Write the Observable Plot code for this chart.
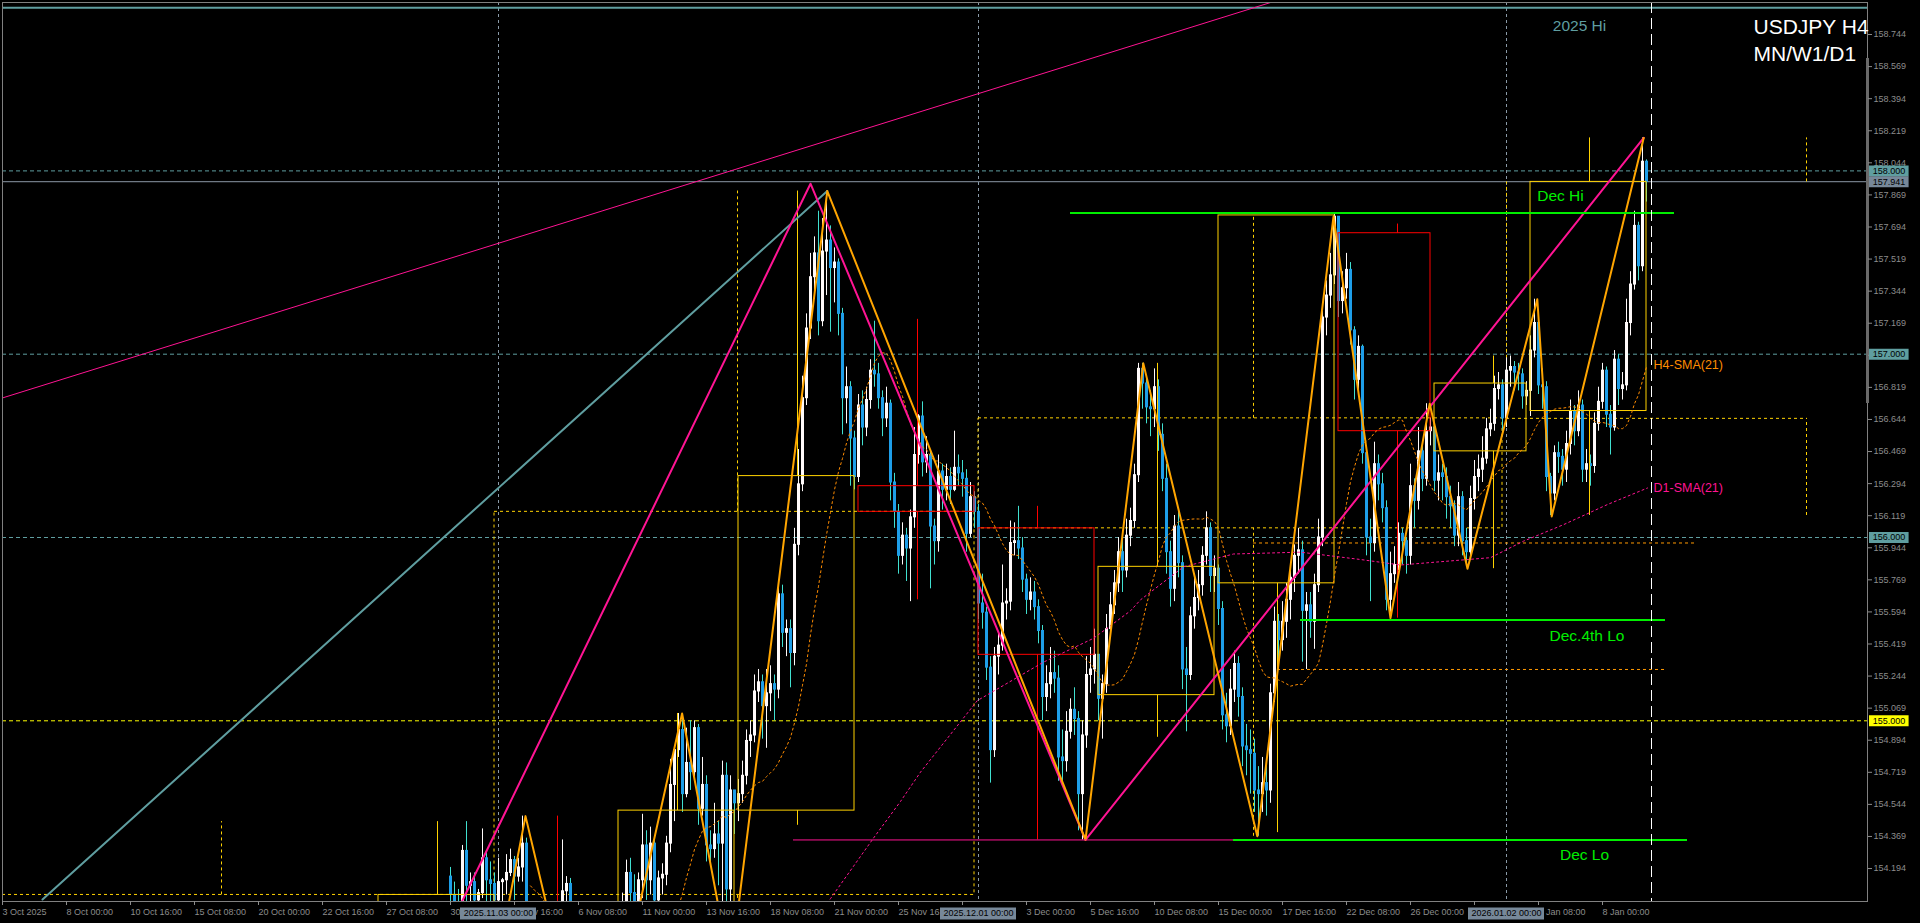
<!DOCTYPE html>
<html>
<head>
<meta charset="utf-8">
<title>USDJPY H4</title>
<script src="https://cdn.jsdelivr.net/npm/d3@7"></script>
<script src="https://cdn.jsdelivr.net/npm/@observablehq/plot@0.6"></script>
<style>
  html, body { margin: 0; padding: 0; background: #000; overflow: hidden; }
  #chart svg { display: block; }
</style>
</head>
<body>
<div id="chart"></div>
<script>
// ================= DATA =================
// H4 bars, bar index 0 = 3 Oct 2025 08:00 (weekend gaps removed)
const firstBar = 112;          // Thu 30 Oct 2025 00:00
const firstOpen = 154.15;
const closes = [
154.05,154.00,153.95,154.29,154.10,154.12, 154.02,154.06,154.25,154.13,154.11,154.02,
154.12,154.13,154.17,154.24,154.15,154.20, 154.33,153.95,153.70,153.55,153.62,153.40,
153.30,153.20,153.45,153.85,154.07,154.11, 153.98,153.85,153.70,153.60,153.45,153.30,
153.20,153.05,152.95,153.15,153.30,153.40, 153.65,153.95,154.17,154.06,153.98,154.13,
154.32,154.13,154.33,154.02,154.14,154.16, 154.33,154.65,154.84,154.95,154.60,154.77,
154.72,154.96,154.52,154.65,154.32,154.30, 154.38,154.33,154.70,154.08,154.62,154.55,
154.60,154.70,154.89,154.92,155.16,155.21, 155.08,155.15,155.20,155.17,155.69,155.48,
155.50,155.37,155.96,156.29,156.76,157.14, 157.42,157.55,157.18,157.56,157.62,157.47,
157.50,157.22,156.76,156.82,156.54,156.33, 156.72,156.60,156.75,156.91,156.89,156.76,
156.65,156.73,156.30,156.14,155.90,156.01, 155.94,156.11,156.45,156.66,156.41,156.45,
156.06,155.98,156.36,156.26,156.33,156.26, 156.38,156.35,156.32,156.02,156.22,156.14,
155.64,155.59,155.29,154.84,155.35,155.41, 155.64,155.65,155.97,155.98,155.94,155.77,
155.66,155.70,155.62,155.49,155.13,155.20, 155.26,155.23,154.80,154.78,154.94,155.06,
155.01,154.60,154.92,155.25,155.28,155.36, 155.12,155.20,155.50,155.63,155.75,155.92,
155.82,156.01,156.09,156.34,156.92,156.84, 156.71,156.70,156.82,156.56,156.32,155.92,
155.72,156.06,155.86,155.28,155.25,155.57, 155.67,155.74,155.90,156.05,155.79,155.83,
155.61,155.03,154.97,155.17,155.31,155.13, 154.86,154.84,154.82,154.62,154.60,154.66,
154.62,155.15,155.54,155.44,155.54,155.66, 155.78,155.90,155.93,155.60,155.63,155.54,
155.74,156.00,157.20,157.32,157.43,157.75, 157.29,157.36,157.46,157.13,156.86,157.04,
156.46,156.00,155.97,156.40,156.29,156.16, 155.66,155.80,155.85,156.02,155.98,155.90,
156.28,156.20,156.47,156.32,156.58,156.60, 156.31,156.35,156.33,156.22,156.17,156.01,
156.22,155.98,155.92,156.21,156.33,156.37, 156.43,156.59,156.62,156.81,156.83,156.65,
156.91,156.93,156.90,156.89,156.77,156.80, 157.02,157.17,156.83,156.82,156.33,156.24,
156.46,156.44,156.37,156.51,156.69,156.58, 156.72,156.37,156.40,156.39,156.62,156.74,
156.91,156.67,156.60,156.97,156.81,156.83, 157.17,157.38,157.70,157.48,158.05,157.94
];
const highs = [
154.20,154.12,154.08,154.32,154.45,154.17, 154.17,154.08,154.41,154.29,154.23,154.17,
154.25,154.14,154.27,154.30,154.26,154.25, 154.48,154.36,153.98,153.75,153.72,153.66,
153.50,153.40,153.55,153.92,154.35,154.15, 154.14,154.00,153.95,153.80,153.70,153.55,
153.40,153.30,153.15,153.25,153.42,153.50, 153.75,154.06,154.24,154.25,154.16,154.17,
154.49,154.40,154.42,154.36,154.18,154.22, 154.37,154.79,154.86,155.04,155.03,154.96,
155.00,155.00,154.98,154.80,154.70,154.40, 154.55,154.45,154.78,154.77,154.70,154.62,
154.68,154.78,154.95,155.00,155.25,155.28, 155.25,155.28,155.30,155.25,155.74,155.74,
155.55,155.55,156.05,156.48,156.88,157.22, 157.55,157.64,157.78,157.74,157.89,157.70,
157.58,157.52,157.25,156.93,156.85,156.58, 156.78,156.80,156.82,156.97,157.18,156.95,
156.80,156.82,156.75,156.35,156.18,156.08, 156.05,156.15,156.60,156.67,156.74,156.55,
156.48,156.10,156.45,156.40,156.40,156.38, 156.58,156.45,156.42,156.37,156.30,156.25,
156.18,155.80,155.62,155.35,155.40,155.48, 155.85,155.72,156.09,156.08,156.17,156.00,
155.80,155.78,155.76,155.66,155.52,155.30, 155.40,155.38,155.30,154.95,155.05,155.12,
155.18,155.05,155.00,155.35,155.40,155.50, 155.35,155.25,155.58,155.70,155.82,156.00,
156.02,156.10,156.16,156.40,156.95,156.95, 156.88,156.80,156.92,156.86,156.62,156.40,
155.98,156.12,156.15,155.90,155.40,155.62, 155.78,155.82,155.95,156.14,156.08,155.90,
155.85,155.65,155.15,155.28,155.38,155.35, 155.18,154.98,154.95,154.90,154.75,154.80,
154.78,155.20,155.62,155.58,155.65,155.75, 155.85,155.96,156.05,155.98,155.70,155.70,
155.80,156.10,157.25,157.40,157.55,157.77, 157.70,157.45,157.55,157.50,157.15,157.10,
157.05,156.50,156.10,156.52,156.45,156.35, 156.20,155.92,155.95,156.08,156.05,156.00,
156.40,156.32,156.60,156.50,156.73,156.65, 156.55,156.45,156.40,156.38,156.28,156.20,
156.30,156.25,156.05,156.28,156.42,156.45, 156.55,156.65,156.70,156.88,156.90,156.86,
156.98,156.99,156.96,156.95,156.92,156.85, 157.10,157.30,157.20,156.92,156.85,156.35,
156.50,156.52,156.48,156.58,156.75,156.72, 156.80,156.75,156.48,156.45,156.68,156.82,
156.95,156.93,156.72,157.02,157.00,156.90, 157.30,157.45,157.78,157.72,158.18,158.06
];
const lows = [
153.95,153.90,153.85,153.92,154.00,154.00, 153.96,153.98,154.03,154.00,154.00,153.95,
154.01,154.00,154.05,154.15,154.02,154.12, 154.12,153.90,153.60,153.45,153.48,153.30,
153.15,153.05,153.00,153.40,153.80,154.00, 153.90,153.75,153.60,153.50,153.35,153.20,
153.05,152.90,152.82,152.90,153.10,153.25, 153.40,153.60,153.90,153.98,153.85,153.95,
154.03,154.02,154.05,153.97,153.99,154.05, 154.10,154.28,154.45,154.80,154.50,154.58,
154.62,154.68,154.43,154.48,154.23,154.20, 154.25,154.10,154.00,153.65,153.70,154.38,
154.45,154.55,154.65,154.80,154.88,155.10, 154.90,154.85,155.05,155.00,155.12,155.40,
155.35,155.18,155.30,155.90,156.25,156.72, 157.08,157.30,157.10,157.15,157.32,157.12,
157.28,157.10,156.56,156.62,156.28,156.26, 156.30,156.50,156.55,156.70,156.82,156.70,
156.55,156.60,156.20,156.05,155.80,155.85, 155.76,155.65,156.05,156.40,156.33,156.35,
155.72,155.85,155.92,156.15,156.20,156.18, 156.25,156.28,156.22,155.92,156.00,156.05,
155.55,155.50,155.22,154.66,154.80,155.25, 155.38,155.55,155.60,155.90,155.88,155.70,
155.58,155.60,155.55,155.42,155.00,155.05, 155.12,155.15,154.67,154.65,154.72,154.90,
154.92,154.40,154.35,154.85,155.15,155.20, 155.00,154.90,155.15,155.45,155.58,155.70,
155.70,155.78,155.95,156.05,156.30,156.70, 156.62,156.55,156.60,156.47,156.25,155.80,
155.62,155.65,155.78,155.17,154.94,155.22, 155.50,155.60,155.68,155.85,155.70,155.70,
155.52,154.95,154.88,154.92,155.10,155.02, 154.75,154.70,154.60,154.50,154.37,154.50,
154.48,154.55,155.10,155.30,155.38,155.45, 155.55,155.70,155.80,155.32,155.28,155.45,
155.39,155.70,155.95,157.10,157.25,157.38, 157.20,157.22,157.30,157.05,156.75,156.80,
156.40,155.90,155.65,155.92,156.20,156.08, 155.60,155.56,155.75,155.82,155.85,155.80,
155.85,156.05,156.15,156.25,156.28,156.50, 156.25,156.20,156.20,156.10,156.05,155.95,
155.95,155.90,155.84,155.90,156.15,156.25, 156.30,156.40,156.55,156.58,156.75,156.55,
156.60,156.82,156.80,156.80,156.70,156.72, 156.66,156.98,156.78,156.70,156.25,156.12,
156.20,156.35,156.28,156.30,156.45,156.50, 156.55,156.30,156.30,156.28,156.35,156.58,
156.70,156.60,156.45,156.58,156.72,156.75, 156.80,157.10,157.35,157.40,157.45,157.83
];

// Axis ticks (labels hidden under the separator boxes are left blank, as in the terminal)
const yTicks = [154.194,154.369,154.544,154.719,154.894,155.069,155.244,155.419,155.594,155.769,
  155.944,156.119,156.294,156.469,156.644,156.819,156.994,157.169,157.344,157.519,157.694,157.869,
  158.044,158.219,158.394,158.569,158.744];
const xTickIdx = [0,16,32,48,64,80,96,112,128,144,160,176,192,208,224,240,256,272,288,304,320,336,352,368,384,400];
const xTickLabels = ["3 Oct 2025","8 Oct 00:00","10 Oct 16:00","15 Oct 08:00","20 Oct 00:00","22 Oct 16:00",
  "27 Oct 08:00","30 Oct 00:00","3 Nov 16:00","6 Nov 08:00","11 Nov 00:00","13 Nov 16:00","18 Nov 08:00",
  "21 Nov 00:00","25 Nov 16:00","","3 Dec 00:00","5 Dec 16:00","10 Dec 08:00","15 Dec 00:00",
  "17 Dec 16:00","22 Dec 08:00","26 Dec 00:00","","5 Jan 08:00","8 Jan 00:00"];
const sepIdx = [124, 244, 376];
const sepLabels = ["2025.11.03 00:00","2025.12.01 00:00","2026.01.02 00:00"];

// ZigZag (H4) vertices
const zzIdx = [123, 130.75, 148, 169.9, 182, 206.2, 270.75, 285.2, 313.7, 332.75, 347, 356.8, 366.25, 383.7, 387.3, 410.3];
const zzVal = [153.60, 154.48, 152.89, 155.04, 153.64, 157.89, 154.35, 156.95, 154.37, 157.75, 155.56, 156.73, 155.83, 157.30, 156.115, 158.18];
// ZigZag (D1) vertices
const zzDIdx = [113, 202, 270.75, 410.3];
const zzDVal = [153.93, 157.93, 154.35, 158.18];
// trend lines
const cyanIdx = [10, 206.2], cyanVal = [154.025, 157.89];
const trendIdx = [-0.5, 330], trendVal = [156.758, 159.007];
// D1 SMA(21)
const d1Idx = [200, 207, 217.75, 224.5, 229.5, 243.7, 260.25, 272.75, 282, 284.5, 295.25, 307.75, 324.5, 339.5, 349.5, 372, 380.25, 390.25, 401.25, 411.25];
const d1Val = [153.80, 154.03, 154.36, 154.56, 154.72, 155.11, 155.32, 155.45, 155.60, 155.66, 155.84, 155.91, 155.92, 155.88, 155.85, 155.89, 155.98, 156.07, 156.18, 156.27];

// W1 candles (first bar, last bar, OHLC)
const wkStart = [94,124,154,184,214,244,274,304,334,358,382];
const wkEnd   = [123,153,183,213,243,273,303,333,357,381,411];
const wkOpen  = [152.80,153.95,153.40,154.51,156.28,156.05,155.14,155.75,157.66,156.47,156.69];
const wkClose = [154.05,153.40,154.51,156.335,156.14,155.36,155.84,157.757,156.58,156.84,157.94];
const wkHigh  = [154.45,154.48,155.04,157.89,157.19,156.17,156.95,157.757,157.71,156.99,158.18];
const wkLow   = [152.60,152.80,153.20,154.43,155.66,154.35,154.91,154.39,155.56,155.83,156.12];
// MN candles (completed months)
const mnStart = [-60, 123, 244];
const mnEnd   = [123, 243, 375];
const mnWick  = [54.75, 183.75, 312.75];
const mnOpen  = [147.90, 154.05, 156.05];
const mnClose = [154.05, 156.14, 156.65];
const mnHigh  = [154.45, 157.89, 157.757];
const mnLow   = [145.50, 152.82, 154.37];
// current month (Jan 2026), still open to the right
const curStart = 376, curWick = 451;
const curOpen = 156.65, curClose = 157.94, curHigh = 158.18, curLow = 156.12;

// price levels
const roundLevels = [158.0, 157.0, 156.0];
const yellowLevels = [155.0];
const bidPrice = 157.941;
const yearHigh = 158.89;
const keyNames = ["Dec Hi", "Dec.4th Lo", "Dec Lo"];
const keyPrices = [157.77, 155.55, 154.35];
const keyFrom = [267, 324.5, 307.75];
const keyTo = [418, 415.75, 421.25];
const lowExtFrom = 197.75, lowExtTo = 307.75;   // magenta part of Dec Lo
const dailyLevels = [155.97, 155.28];
const dailyFrom = [312.75, 318.75];
const dailyTo = [423.5, 415.75];

// ================= BUILD =================
const bars = closes.map((c, k) => {
  const o = k === 0 ? firstOpen : closes[k - 1];
  return {i: firstBar + k, o, c, h: Math.max(highs[k], o, c), l: Math.min(lows[k], o, c), up: c >= o};
});
const zz = zzIdx.map((i, k) => ({i, p: zzVal[k]}));
const zzD = zzDIdx.map((i, k) => ({i, p: zzDVal[k]}));
const cyan = cyanIdx.map((i, k) => ({i, p: cyanVal[k]}));
const trend = trendIdx.map((i, k) => ({i, p: trendVal[k]}));
const d1 = d1Idx.map((i, k) => ({i, p: d1Val[k]}));
const weeks = wkStart.map((s, k) => ({s, e: wkEnd[k], o: wkOpen[k], c: wkClose[k], h: wkHigh[k], l: wkLow[k], m: s + 14.75}));
const months = mnStart.map((s, k) => ({s, e: mnEnd[k], m: mnWick[k], o: mnOpen[k], c: mnClose[k], h: mnHigh[k], l: mnLow[k]}));
const cur = {s: curStart, e: curWick, m: curWick, o: curOpen, c: curClose, h: curHigh, l: curLow};
const keys = keyNames.map((n, k) => ({n, p: keyPrices[k], a: keyFrom[k], b: keyTo[k]}));
const daily = dailyLevels.map((p, k) => ({p, a: dailyFrom[k], b: dailyTo[k]}));

const yMin = 154.0142, yMax = 158.9187, xMax = 466.25;
const GOLD = "#ffd200", TEAL = "#5f9ea0", PINK = "#ff1493", GREEN = "#00ee00", SLATE = "#778899";
const bull = "#fffafa", bearBody = "#1e9ee8", bearWick = "#40e0d0";
const wkColor = d => d.c >= d.o ? GOLD : "#ff0000";

const valueBoxes = [
  {p: 158.0, t: "158.000", bg: TEAL},
  {p: bidPrice, t: "157.941", bg: SLATE},
  {p: 157.0, t: "157.000", bg: TEAL},
  {p: 156.0, t: "156.000", bg: TEAL},
  {p: 155.0, t: "155.000", bg: "#ffff00"}
];

const chart = Plot.plot({
  width: 1920,
  height: 923,
  marginLeft: 2,
  marginRight: 53,
  marginTop: 2,
  marginBottom: 22,
  style: {background: "#000", color: "#8c8c8c", fontFamily: "'Liberation Sans', Arial, sans-serif", fontSize: "9px"},
  x: {domain: [0, xMax], axis: null},
  y: {domain: [yMin, yMax], axis: null},
  marks: [
    // separators (vertical grid)
    Plot.ruleX(sepIdx, {x: d => d, stroke: "#8a9aa8", strokeDasharray: "3,3", clip: true}),
    // round levels
    Plot.ruleY(roundLevels, {y: d => d, stroke: TEAL, strokeDasharray: "4,3", clip: true}),
    Plot.ruleY(yellowLevels, {y: d => d, stroke: "#ffff00", strokeDasharray: "4,3", clip: true}),
    Plot.ruleY([bidPrice], {y: d => d, stroke: "#8c99a6", clip: true}),
    Plot.ruleY([yearHigh], {y: d => d, stroke: TEAL, strokeWidth: 2, clip: true}),
    // daily dashed levels
    Plot.ruleY(daily, {y: "p", x1: "a", x2: "b", stroke: "#ff9900", strokeDasharray: "3,3", clip: true}),

    // MN candles (dashed)
    Plot.rect(months, {x1: "s", x2: "e", y1: "o", y2: "c", fill: "none", stroke: GOLD, strokeDasharray: "3,3", clip: true}),
    Plot.ruleX(months, {x: "m", y1: d => Math.max(d.o, d.c), y2: "h", stroke: GOLD, strokeDasharray: "3,3", clip: true}),
    Plot.ruleX(months, {x: "m", y1: "l", y2: d => Math.min(d.o, d.c), stroke: GOLD, strokeDasharray: "3,3", clip: true}),
    Plot.ruleY([cur], {y: "o", x1: "s", x2: "e", stroke: GOLD, strokeDasharray: "3,3", clip: true}),
    Plot.ruleX([cur], {x: "s", y1: "o", y2: "c", stroke: GOLD, strokeDasharray: "3,3", clip: true}),
    Plot.ruleX([cur], {x: "m", y1: "c", y2: "h", stroke: GOLD, strokeDasharray: "3,3", clip: true}),
    Plot.ruleX([cur], {x: "m", y1: "l", y2: "o", stroke: GOLD, strokeDasharray: "3,3", clip: true}),

    // candles
    Plot.ruleX(bars, {x: "i", y1: "l", y2: "h", stroke: d => d.up ? bull : bearWick, strokeWidth: 1, clip: true}),
    Plot.ruleX(bars, {x: "i", y1: d => Math.min(d.o, d.c) - 0.0028, y2: d => Math.max(d.o, d.c) + 0.0028,
      stroke: d => d.up ? bull : bearBody, strokeWidth: 3, clip: true}),

    // W1 candles (solid boxes)
    Plot.rect(weeks, {x1: "s", x2: "e", y1: "o", y2: "c", fill: "none", stroke: wkColor, clip: true}),
    Plot.ruleX(weeks, {x: "m", y1: d => Math.max(d.o, d.c), y2: "h", stroke: wkColor, clip: true}),
    Plot.ruleX(weeks, {x: "m", y1: "l", y2: d => Math.min(d.o, d.c), stroke: wkColor, clip: true}),

    // SMAs
    Plot.lineY(bars, Plot.windowY({k: 21, anchor: "end", strict: true}, {x: "i", y: "c", stroke: "#ff8c00", strokeWidth: 1, strokeDasharray: "2,3", clip: true})),
    Plot.line(d1, {x: "i", y: "p", stroke: PINK, strokeWidth: 1, strokeDasharray: "2,3", clip: true}),

    // trend lines & zigzags
    Plot.line(trend, {x: "i", y: "p", stroke: PINK, strokeWidth: 1, clip: true}),
    Plot.line(cyan, {x: "i", y: "p", stroke: TEAL, strokeWidth: 2, clip: true}),
    Plot.line(zzD, {x: "i", y: "p", stroke: PINK, strokeWidth: 2, clip: true}),
    Plot.line(zz, {x: "i", y: "p", stroke: "#ffa500", strokeWidth: 2, clip: true}),

    // key levels
    Plot.ruleY([keyPrices[2]], {y: d => d, x1: lowExtFrom, x2: lowExtTo, stroke: PINK, clip: true}),
    Plot.ruleY(keys, {y: "p", x1: "a", x2: "b", stroke: GREEN, strokeWidth: 2, clip: true}),
    Plot.text([keys[0]], {x: d => (d.b + d.a) / 2 + 47, y: "p", text: "n", dy: -17, fill: GREEN, fontSize: 15.5}),
    Plot.text([keys[1]], {x: d => (d.b + d.a) / 2 + 26, y: "p", text: "n", dy: 16, fill: GREEN, fontSize: 15.5}),
    Plot.text([keys[2]], {x: d => (d.b + d.a) / 2 + 31, y: "p", text: "n", dy: 15, fill: GREEN, fontSize: 15.5}),
    Plot.text(["2025 Hi"], {x: 394.25, y: yearHigh, text: d => d, dy: 18, fill: TEAL, fontSize: 15.5}),
    Plot.text(["H4-SMA(21)"], {x: 412.75, y: 156.94, text: d => d, textAnchor: "start", fill: "#ff8c00", fontSize: 12.5}),
    Plot.text(["D1-SMA(21)"], {x: 412.75, y: 156.27, text: d => d, textAnchor: "start", fill: PINK, fontSize: 12.5}),

    // current-bar separator
    Plot.ruleX([412.25], {x: d => d, stroke: "#ffffff", strokeDasharray: "11,5", clip: true}),

    // frame & title
    Plot.frame({stroke: "#808080"}),
    Plot.ruleX([xMax], {x: d => d, y1: 156.731, y2: 158.613, stroke: "#6a6a6a", strokeWidth: 3}),
    Plot.text(["USDJPY H4"], {frameAnchor: "top-right", text: d => d, textAnchor: "start", dx: -114, dy: 17, fill: "#ffffff", fontSize: 21}),
    Plot.text(["MN/W1/D1"], {frameAnchor: "top-right", text: d => d, textAnchor: "start", dx: -114, dy: 44, fill: "#ffffff", fontSize: 21}),

    // axes
    Plot.axisY({anchor: "right", ticks: yTicks, tickFormat: d => d.toFixed(3), tickSize: 4, tickPadding: 2, fontSize: 9, color: "#8c8c8c"}),
    Plot.axisX({anchor: "bottom", ticks: xTickIdx, tickFormat: d => xTickLabels[xTickIdx.indexOf(d)], tickSize: 4, tickPadding: 3, textAnchor: "start", fontSize: 9, color: "#8c8c8c"}),

    // value boxes on price axis
    Plot.ruleY(valueBoxes, {y: "p", x1: xMax + 0.5, x2: xMax + 10.4, stroke: "bg", strokeWidth: 11}),
    Plot.text(valueBoxes, {y: "p", x: xMax + 1.3, text: "t", textAnchor: "start", fill: "#000", fontSize: 9}),
    // separator boxes on time axis
    Plot.ruleY(sepIdx, {y: () => yMin, x1: d => d - 9.5, x2: d => d + 9.5, dy: 12, stroke: SLATE, strokeWidth: 12}),
    Plot.text(sepIdx, {x: d => d, y: () => yMin, dy: 12, text: (d, k) => sepLabels[k], fill: "#000", fontSize: 9})
  ]
});
document.getElementById("chart").appendChild(chart);
</script>
</body>
</html>
